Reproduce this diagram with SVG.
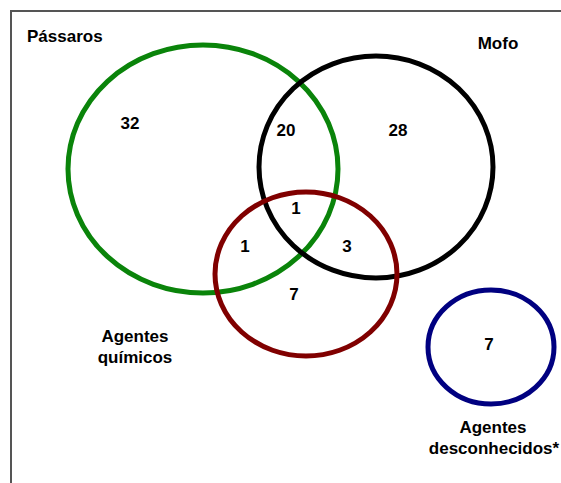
<svg xmlns="http://www.w3.org/2000/svg" width="561" height="483" viewBox="0 0 561 483">
<style>
  text { font-family: "Liberation Sans", Arial, sans-serif; font-weight: bold; font-size: 17px; fill: #000; }
  .c { text-anchor: middle; }
  .ring { fill: none; stroke-width: 5; }
</style>
<rect width="561" height="483" fill="#fff"/>
<path d="M11 483 V11 H561" fill="none" stroke="#555" stroke-width="2"/>
<g id="passaros">
  <ellipse class="ring" cx="203" cy="169" rx="135" ry="124" stroke="#0a840a"/>
  <text x="27" y="42">Pássaros</text>
</g>
<g id="mofo">
  <ellipse class="ring" cx="376" cy="167" rx="117" ry="111" stroke="#000"/>
  <text class="c" x="498" y="49">Mofo</text>
</g>
<g id="agentes-quimicos">
  <ellipse class="ring" cx="306" cy="274" rx="91" ry="82" stroke="#800000"/>
  <text class="c" x="135" y="342">Agentes</text>
  <text class="c" x="135" y="363">químicos</text>
</g>
<g id="agentes-desconhecidos">
  <ellipse class="ring" cx="491" cy="347" rx="63" ry="57" stroke="#000080"/>
  <text class="c" x="493" y="433">Agentes</text>
  <text class="c" x="494" y="454">desconhecidos*</text>
</g>
<g id="counts">
  <text class="c" x="130" y="129">32</text>
  <text class="c" x="286" y="136">20</text>
  <text class="c" x="398" y="136">28</text>
  <text class="c" x="296" y="214">1</text>
  <text class="c" x="245" y="252">1</text>
  <text class="c" x="347" y="252">3</text>
  <text class="c" x="294" y="300">7</text>
  <text class="c" x="489" y="350">7</text>
</g>
</svg>
